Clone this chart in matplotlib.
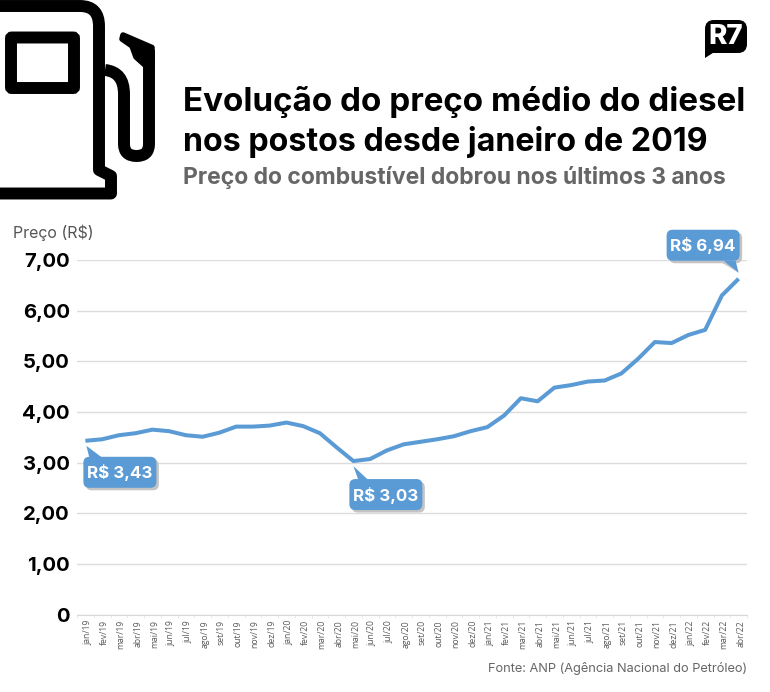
#!/usr/bin/env python

import matplotlib
matplotlib.use('Agg')

import matplotlib.pyplot as plt
from matplotlib.patches    import FancyBboxPatch, PathPatch, Polygon
from matplotlib.path       import Path
from matplotlib.transforms import IdentityTransform, ScaledTranslation

W, H = 770, 692

months = ['jan/19', 'fev/19', 'mar/19', 'abr/19', 'mai/19', 'jun/19', 'jul/19', 'ago/19',
          'set/19', 'out/19', 'nov/19', 'dez/19', 'jan/20', 'fev/20', 'mar/20', 'abr/20',
          'mai/20', 'jun/20', 'jul/20', 'ago/20', 'set/20', 'out/20', 'nov/20', 'dez/20',
          'jan/21', 'fev/21', 'mar/21', 'abr/21', 'mai/21', 'jun/21', 'jul/21', 'ago/21',
          'set/21', 'out/21', 'nov/21', 'dez/21', 'jan/22', 'fev/22', 'mar/22', 'abr/22']

prices = [3.43, 3.46, 3.54, 3.58, 3.65, 3.62, 3.54, 3.51,
          3.59, 3.71, 3.71, 3.73, 3.79, 3.72, 3.58, 3.30,
          3.03, 3.07, 3.24, 3.36, 3.41, 3.46, 3.52, 3.62,
          3.70, 3.93, 4.27, 4.21, 4.48, 4.53, 4.60, 4.62,
          4.76, 5.05, 5.38, 5.36, 5.52, 5.62, 6.30, 6.63]

y_ticks  = [0, 1, 2, 3, 4, 5, 6, 7]
y_labels = ['0', '1,00', '2,00', '3,00', '4,00', '5,00', '6,00', '7,00']

callout_months = [0, 16, 39]
callout_labels = ['R$ 3,43', 'R$ 3,03', 'R$ 6,94']

BLUE = '#5b9bd5'
FONT = 'Inter'

BOX_W, BOX_H = 73, 31

# per callout, in pixels from the point, y going down: box corner and the tail triangle
BOX_OFF  = [(-2, 16), (-4, 18), (-72, -49)]
TAIL_OFF = [[(1, 5), (4, 17), (17, 17)],
            [(0, 5), (5, 19), (15, 19)],
            [(0, -6), (-15, -18), (-3, -18)]]


# ------------------------------------------------------------------------------
#
def draw_pump(art):

    body = Path([(0, 6), (80, 6), (99, 6), (99, 26), (99, 170), (111, 176), (111, 193.5), (0, 193.5)],
                [Path.MOVETO, Path.LINETO, Path.CURVE3, Path.CURVE3,
                 Path.LINETO, Path.LINETO, Path.LINETO, Path.LINETO])
    hose = Path([(105, 70), (124, 72), (124, 94), (124, 144), (124, 156), (136.5, 156),
                 (149, 156), (149, 144), (149, 50)],
                [Path.MOVETO, Path.CURVE3, Path.CURVE3, Path.LINETO, Path.CURVE3,
                 Path.CURVE3, Path.CURVE3, Path.CURVE3, Path.LINETO])
    for p in [body, hose]:
        art.add_patch(PathPatch(p, fc='none', ec='black', lw=8.6, capstyle='butt', joinstyle='round'))

    art.add_patch(FancyBboxPatch((11, 37.5), 63, 50.5, boxstyle='round,pad=0,rounding_size=1',
                                 fc='none', ec='black', lw=8.6))
    art.add_patch(Polygon([(123, 35), (152, 47.5), (152, 66), (146, 66), (136, 57), (132, 46), (122, 39)],
                          closed=True, fc='black', ec='black', lw=4, joinstyle='round'))


# ------------------------------------------------------------------------------
#
def draw_logo(art):

    art.add_patch(FancyBboxPatch((705, 20), 42, 33, boxstyle='round,pad=0,rounding_size=9',
                                 fc='black', ec='none'))
    art.add_patch(Polygon([(705, 45), (705, 58), (716, 51)], closed=True, fc='black', ec='none'))
    art.text(726, 37, 'R7', color='white', fontsize=20, fontweight='heavy', family=FONT,
             ha='center', va='center')


# ------------------------------------------------------------------------------
#
def draw_callouts(ax):

    ident = IdentityTransform()
    for n, i in enumerate(callout_months):

        px, py = ax.transData.transform((i, prices[i]))
        bx = px + BOX_OFF[n][0]
        by = py - BOX_OFF[n][1] - BOX_H

        tail = [(px + dx, py - dy) for dx, dy in TAIL_OFF[n]]
        style = 'round,pad=0,rounding_size=6'

        if n == 2:
            ax.add_patch(Polygon([(x - 5, y) for x, y in tail[1:]] + [tail[0]], closed=True, fc='#c4c4c4',
                                 ec='none', transform=ident, zorder=4, clip_on=False))
        ax.add_patch(FancyBboxPatch((bx + 2.5, by - 2.5), BOX_W, BOX_H, boxstyle=style, fc='#c4c4c4', ec='none',
                                    transform=ident, zorder=4, clip_on=False))
        ax.add_patch(FancyBboxPatch((bx, by), BOX_W, BOX_H, boxstyle=style, fc=BLUE, ec='none',
                                    transform=ident, zorder=5, clip_on=False))
        ax.add_patch(Polygon(tail, closed=True, fc=BLUE, ec='none',
                             transform=ident, zorder=5, clip_on=False))
        ax.text(bx + BOX_W / 2, by + BOX_H / 2 - 0.5, callout_labels[n], transform=ident, ha='center', va='center',
                color='white', fontsize=12.2, fontweight='bold', family=FONT, zorder=6)


# ------------------------------------------------------------------------------
#
def main():

    fig = plt.figure(figsize=(W / 100, H / 100), dpi=100, facecolor='white')

    left, right, top, bottom = 77, 747, 260, 614.5
    ax = fig.add_axes([left / W, 1 - bottom / H, (right - left) / W, (bottom - top) / H])

    x = list(range(len(months)))
    ax.plot(x, prices, color=BLUE, lw=2.9, solid_joinstyle='round', solid_capstyle='butt',
            zorder=3, clip_on=False)

    ax.set_xlim(-0.5, len(months) - 0.5)
    ax.set_ylim(0, 7)

    ax.set_yticks(y_ticks)
    ax.set_yticklabels(y_labels, fontsize=14.6, fontweight='bold', family=FONT, color='black')
    ax.tick_params(axis='y', length=0, pad=5)
    ax.grid(axis='y', color='#dcdcdc', lw=1)
    ax.set_axisbelow(True)

    ax.set_xticks(x)
    ax.set_xticklabels(months, rotation=90, fontsize=6.2, family='Open Sans', color='#595959')
    ax.set_xticks([i - 0.5 for i in range(len(months) + 1)], minor=True)
    ax.tick_params(axis='x', which='major', length=0, pad=4)
    ax.tick_params(axis='x', which='minor', length=2, width=0.5, color='#e2e2e2')

    # month labels sit a little right of their tick in the original
    nudge = ScaledTranslation(1.5 / 72, 0, fig.dpi_scale_trans)
    for label in ax.get_xticklabels():
        label.set_transform(label.get_transform() + nudge)

    for side in ['top', 'left', 'right']:
        ax.spines[side].set_visible(False)
    ax.spines['bottom'].set_color('#d9d9d9')
    ax.spines['bottom'].set_linewidth(0.8)

    draw_callouts(ax)

    # overlay in pixel coordinates for the header and the icons
    art = fig.add_axes([0, 0, 1, 1], zorder=-1)
    art.set_xlim(0, W)
    art.set_ylim(H, 0)
    art.axis('off')

    draw_pump(art)
    draw_logo(art)

    art.text(183, 111, 'Evolução do preço médio do diesel', fontsize=23.9, fontweight='bold',
             family=FONT, color='black', va='baseline')
    art.text(183, 151, 'nos postos desde janeiro de 2019', fontsize=23.2, fontweight='bold',
             family=FONT, color='black', va='baseline')
    art.text(183, 184, 'Preço do combustível dobrou nos últimos 3 anos', fontsize=16.5, fontweight='bold',
             family=FONT, color='#666666', va='baseline')

    art.text(13, 238, 'Preço (R$)', fontsize=11.5, family=FONT, color='#555555', va='baseline')
    art.text(747, 672, 'Fonte: ANP (Agência Nacional do Petróleo)', fontsize=9.2, family=FONT,
             color='#666666', ha='right', va='baseline')

    fig.savefig('out.png', dpi=100, facecolor='white')


# ------------------------------------------------------------------------------
#
if __name__ == '__main__':

    main()

# ------------------------------------------------------------------------------
